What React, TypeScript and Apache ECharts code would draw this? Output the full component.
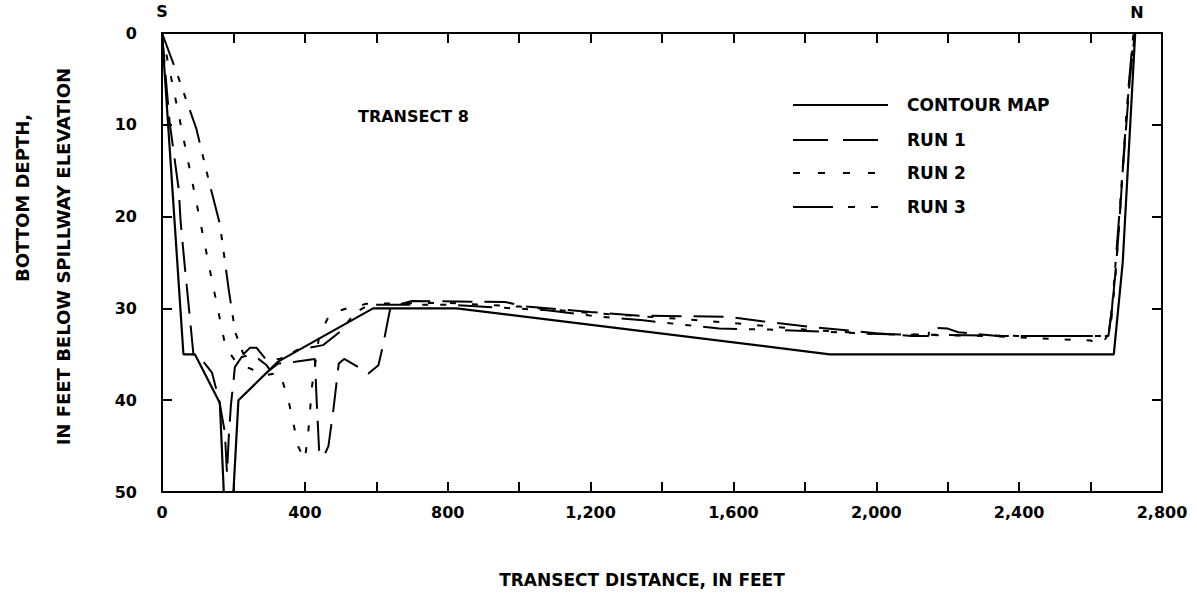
import React, { useEffect, useRef } from "react";
import * as echarts from "echarts";

// ---- Data (transect distance in feet, bottom depth in feet) ----
const contourX = [0, 60, 92, 162, 173, 200, 214, 325, 591, 825, 1870, 2665, 2690, 2725];
const contourY = [0, 35, 35, 40.3, 50, 50, 40, 35.8, 30, 30, 35, 35, 25, 0];

const run1X = [0, 21, 47, 52, 64, 78, 88, 110, 140, 160, 176, 182, 187, 193, 200, 204, 223, 242, 270, 293, 302, 326, 373, 428, 433, 440, 452, 466, 480, 495, 510, 550, 578, 606, 620, 640, 700, 960, 1020, 1200, 1340, 1580, 1680, 1814, 2000, 2100, 2146, 2150, 2200, 2230, 2340, 2650, 2660, 2670, 2680, 2690, 2700, 2710, 2724];
const run1Y = [0, 9.6, 17.1, 20.5, 25.5, 31, 35, 35.5, 37, 40, 43.5, 48, 44, 40.5, 38, 36.4, 35.3, 35.1, 35.5, 36.2, 36.7, 36, 35.8, 35.5, 40, 45.5, 46.2, 45, 41, 36, 35.5, 36.4, 37.1, 36.2, 33.8, 29.8, 29.2, 29.3, 29.8, 30.4, 30.8, 30.9, 31.4, 32, 32.7, 33, 33, 32.1, 32.2, 32.6, 33, 33, 30, 26, 21, 15, 10, 5, 0];

const run2X = [0, 40, 93, 136, 178, 210, 250, 284, 330, 354, 382, 400, 410, 420, 440, 470, 517, 573, 800, 1000, 1200, 1400, 1600, 1800, 2000, 2300, 2600, 2630, 2655, 2668, 2680, 2690, 2700, 2712, 2722];
const run2Y = [0, 7.6, 17.8, 26.2, 34.2, 36, 36.6, 37.3, 37, 40, 45.1, 46.5, 43.3, 38.5, 33, 30.6, 30, 29.5, 29.4, 29.8, 30.5, 31, 31.6, 32.3, 32.8, 33, 33.5, 34, 32.5, 27.3, 21, 15, 9, 4, 0];

const run3X = [0, 40, 96, 133, 162, 187, 205, 228, 246, 265, 290, 330, 380, 451, 500, 540, 580, 800, 1078, 1221, 1347, 1560, 1700, 2010, 2400, 2650, 2660, 2672, 2684, 2695, 2706, 2720];
const run3Y = [0, 4.2, 10.4, 16.4, 20.8, 28, 32.6, 35, 34.3, 34.3, 35.5, 35.5, 34.5, 34, 32.5, 30.5, 29.6, 29.6, 30.2, 30.9, 31.3, 32.2, 32.3, 32.8, 33, 33, 30, 24, 18, 12, 6, 0];

const xTickValues = [0, 400, 800, 1200, 1600, 2000, 2400, 2800];
const yTickValues = [0, 10, 20, 30, 40, 50];

const legendNames = ["CONTOUR MAP", "RUN 1", "RUN 2", "RUN 3"];

const FONT = "DejaVu Sans";

const pairs = (xs: number[], ys: number[]) => xs.map((x, i) => [x, ys[i]]);

export default function App() {
  const ref = useRef<HTMLDivElement>(null);
  useEffect(() => {
    if (!ref.current) return;
    const chart = echarts.init(ref.current, undefined, { renderer: "svg" });
    const axisLine = { show: true, onZero: false, lineStyle: { color: "#000", width: 2 } };
    const tick = { show: true, inside: true, length: 10, lineStyle: { color: "#000", width: 2 } };
    const labelStyle = { color: "#000", fontSize: 16, fontWeight: "bold" as const, fontFamily: FONT };
    const dashes: (number[] | "solid")[] = ["solid", [30, 12], [6, 16], [34, 12, 6, 12, 6, 12]];
    const legendDash: (number[] | null)[] = [null, [35, 15], [7, 18], [40, 15, 7, 16, 7, 100]];
    const legendRows = [105, 140, 173, 207];
    const series = [
      pairs(contourX, contourY),
      pairs(run1X, run1Y),
      pairs(run2X, run2Y),
      pairs(run3X, run3Y),
    ].map((d, i) => ({
      type: "line",
      name: legendNames[i],
      data: d,
      showSymbol: false,
      symbol: "none",
      clip: true,
      lineStyle: { color: "#000", width: i === 0 ? 2.2 : 2, type: dashes[i] },
    }));

    const graphic: any[] = [];
    legendNames.forEach((n, i) => {
      graphic.push({
        type: "line",
        shape: { x1: 793, y1: legendRows[i], x2: 888, y2: legendRows[i] },
        style: { stroke: "#000", lineWidth: 2, lineDash: legendDash[i] || undefined },
      });
      graphic.push({
        type: "text",
        x: 907,
        y: legendRows[i],
        style: { text: n, fill: "#000", font: `bold 17px '${FONT}'`, textVerticalAlign: "middle" },
      });
    });
    graphic.push(
      { type: "text", x: 358, y: 116, style: { text: "TRANSECT 8", fill: "#000", font: `bold 16px '${FONT}'`, textVerticalAlign: "middle" } },
      { type: "text", x: 162, y: 11, style: { text: "S", fill: "#000", font: `bold 16px '${FONT}'`, textAlign: "center", textVerticalAlign: "middle" } },
      { type: "text", x: 1137, y: 12, style: { text: "N", fill: "#000", font: `bold 16px '${FONT}'`, textAlign: "center", textVerticalAlign: "middle" } },
      { type: "text", x: 642, y: 580, style: { text: "TRANSECT DISTANCE, IN FEET", fill: "#000", font: `bold 17px '${FONT}'`, textAlign: "center", textVerticalAlign: "middle" } },
      { type: "text", x: 22, y: 198, rotation: Math.PI / 2, style: { text: "BOTTOM DEPTH,", fill: "#000", font: `bold 18px '${FONT}'`, textAlign: "center", textVerticalAlign: "middle" } },
      { type: "text", x: 63, y: 68, rotation: Math.PI / 2, style: { text: "IN FEET BELOW SPILLWAY ELEVATION", fill: "#000", font: `bold 18px '${FONT}'`, textAlign: "right", textVerticalAlign: "middle" } }
    );

    chart.setOption({
      animation: false,
      backgroundColor: "#fff",
      grid: { left: 162, right: 35, top: 33, bottom: 111, containLabel: false },
      xAxis: [
        {
          type: "value", min: 0, max: 2800, interval: 200, position: "bottom",
          axisLine, axisTick: tick, splitLine: { show: false },
          axisLabel: {
            ...labelStyle, margin: 12, showMinLabel: true, showMaxLabel: true,
            formatter: (v: number) => (xTickValues.includes(v) ? v.toLocaleString("en-US") : ""),
          },
        },
        {
          type: "value", min: 0, max: 2800, interval: 200, position: "top",
          axisLine, axisTick: tick, splitLine: { show: false }, axisLabel: { show: false },
        },
      ],
      yAxis: [
        {
          type: "value", inverse: true, min: 0, max: 50, interval: 10, position: "left",
          axisLine, axisTick: tick, splitLine: { show: false },
          axisLabel: { ...labelStyle, margin: 25, formatter: (v: number) => (yTickValues.includes(v) ? String(v) : "") },
        },
        {
          type: "value", inverse: true, min: 0, max: 50, interval: 10, position: "right",
          axisLine, axisTick: tick, splitLine: { show: false }, axisLabel: { show: false },
        },
      ],
      series,
      graphic,
    });
    return () => chart.dispose();
  }, []);
  return (
    <div
      ref={ref}
      style={{ position: "fixed", left: 0, top: 0, width: 1197, height: 603, background: "#fff" }}
    />
  );
}
